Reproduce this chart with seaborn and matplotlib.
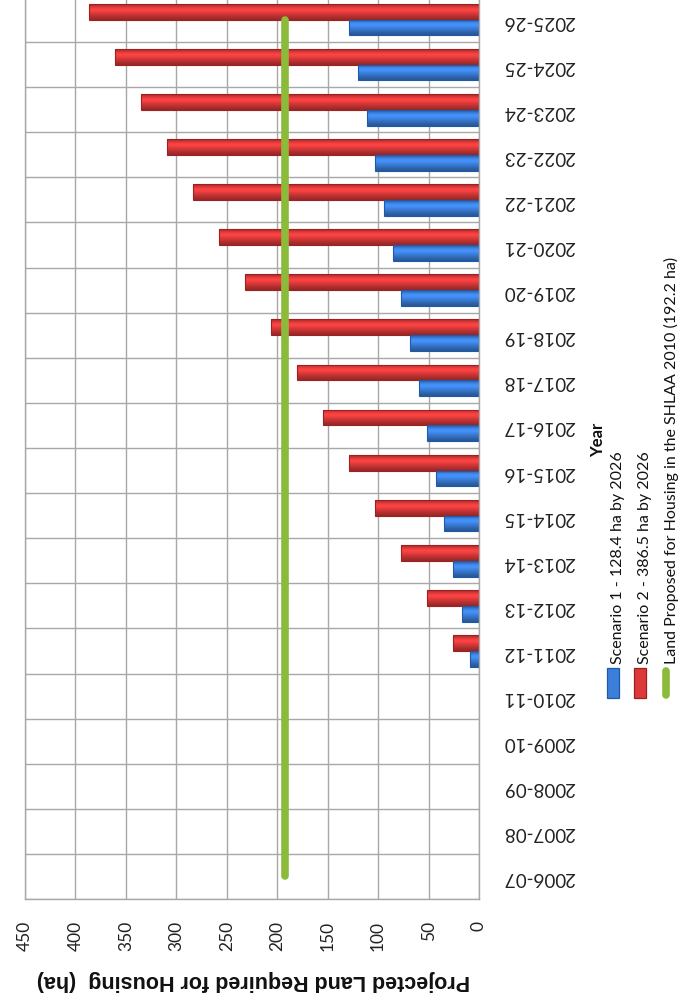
import numpy as np
import pandas as pd
import matplotlib
matplotlib.use("Agg")
import matplotlib.pyplot as plt
import seaborn as sns
from matplotlib.colors import to_rgb
from matplotlib.patches import Rectangle
from matplotlib.lines import Line2D

# ---- data -------------------------------------------------------------
years = ["2006-07", "2007-08", "2008-09", "2009-10", "2010-11", "2011-12",
         "2012-13", "2013-14", "2014-15", "2015-16", "2016-17", "2017-18",
         "2018-19", "2019-20", "2020-21", "2021-22", "2022-23", "2023-24",
         "2024-25", "2025-26"]
scenario1 = [0, 0, 0, 0, 0, 8.6, 17.1, 25.7, 34.2, 42.8, 51.4, 59.9, 68.5,
             77.0, 85.6, 94.2, 102.7, 111.3, 119.8, 128.4]
scenario2 = [0, 0, 0, 0, 0, 25.8, 51.5, 77.3, 103.1, 128.8, 154.6, 180.4,
             206.1, 231.9, 257.7, 283.4, 309.2, 335.0, 360.7, 386.5]
shlaa_land = 192.2
value_ticks = [0, 50, 100, 150, 200, 250, 300, 350, 400, 450]

s1_label = "Scenario 1 - 128.4 ha by 2026"
s2_label = "Scenario 2 - 386.5 ha by 2026"
line_label = "Land Proposed for Housing in the SHLAA 2010 (192.2 ha)"
value_title = "Projected Land Required for Housing  (ha)"
year_title = "Year"

# ---- styling ----------------------------------------------------------
blue, blue_edge = "#3b7fdb", "#1f5aa8"
red, red_edge = "#dc3a3a", "#a01f1f"
green = "#8cbb3c"
grid_col = "#a8a8a8"
# brightness across a bar's thickness (top to bottom), for a rounded look
shade = np.array([0.80, 1.0, 1.16, 1.12, 1.0, 0.9, 0.8, 0.7])

sns.set_theme(style="white")
plt.rcParams["font.family"] = ["Lato", "DejaVu Sans"]

df = pd.DataFrame({
    "year": years * 2,
    "value": scenario1 + scenario2,
    "series": [s1_label] * len(years) + [s2_label] * len(years),
})

W, H = 680, 1000
fig = plt.figure(figsize=(W / 100, H / 100), dpi=100)
# plot area: value 450 at x=25 px, value 0 at x=479 px; rows from y=-3 to 899 px
ax = fig.add_axes([25 / W, 1 - 899 / H, 454 / W, 902 / H])

order = years[::-1]           # 2025-26 at the top
sns.barplot(data=df, x="value", y="year", hue="series", order=order,
            hue_order=[s2_label, s1_label],
            palette={s1_label: blue, s2_label: red}, saturation=1,
            orient="h", width=0.7, legend=False, ax=ax, zorder=2)

# shaded fill clipped to each bar, outline drawn on top
for cont, base, ec in zip(ax.containers, [red, blue], [red_edge, blue_edge]):
    grad = np.clip(np.array(to_rgb(base))[None, :] * shade[:, None], 0, 1)
    grad = grad[:, None, :]
    for bar in cont:
        if bar.get_width() <= 0:
            bar.set_linewidth(0)
            continue
        x0, y0 = bar.get_x(), bar.get_y()
        w, h = bar.get_width(), bar.get_height()
        im = ax.imshow(grad, extent=(x0, x0 + w, y0 + h, y0), aspect="auto",
                       interpolation="bilinear", zorder=2.2)
        im.set_clip_path(bar)
        bar.set_facecolor("none")
        bar.set_edgecolor(ec)
        bar.set_linewidth(0.8)
        bar.set_zorder(2.4)

# SHLAA allocation as a constant line across every year
ax.plot([shlaa_land] * len(order), np.arange(len(order)), color=green,
        lw=5.5, solid_capstyle="round", zorder=3)

ax.set_xlim(450, 0)
ax.set_ylim(len(order) - 0.5, -0.5)
ax.set_xticks(value_ticks)
ax.set_xticklabels([str(v) for v in value_ticks])
ax.set_yticks(np.arange(len(order)))
ax.set_yticklabels(order)
ax.set_yticks(np.arange(-0.5, len(order), 1.0), minor=True)
ax.grid(axis="x", which="major", color=grid_col, lw=1)
ax.grid(axis="y", which="minor", color=grid_col, lw=1)
ax.grid(axis="y", which="major", visible=False)
ax.set_axisbelow(True)
for sp in ax.spines.values():
    sp.set_color(grid_col)
    sp.set_linewidth(1)

ax.yaxis.tick_right()
ax.tick_params(axis="x", which="both", length=0, pad=16, labelsize=12.5,
               labelrotation=90, colors="#222222")
ax.tick_params(axis="y", which="both", length=0, pad=17, labelsize=13.5,
               labelrotation=180, colors="#222222")
ax.set_xlabel("")
ax.set_ylabel("")

# axis titles
fig.text(253 / W, 1 - 980 / H, value_title, rotation=180, ha="center",
         va="center", fontsize=15.5, fontweight="bold",
         family=["Liberation Sans", "DejaVu Sans"], color="#111111")
fig.text(598 / W, 1 - 440 / H, year_title, rotation=90, ha="center",
         va="center", fontsize=12, fontweight="bold", color="#111111")

# legend, laid out in columns reading bottom to top
text_bottom = 664
key_top, key_bottom = 668, 698
entries = [(s1_label, 613, 618, "bar", blue, blue_edge),
           (s2_label, 640, 645, "bar", red, red_edge),
           (line_label, 666, 671, "line", green, green)]
for label, kx, tx, kind, fc, ec in entries:
    fig.text(tx / W, 1 - text_bottom / H, label, rotation=90, ha="center",
             va="bottom", fontsize=11.5, color="#111111")
    if kind == "bar":
        fig.add_artist(Rectangle(((kx - 6) / W, 1 - key_bottom / H), 12 / W,
                                 (key_bottom - key_top) / H,
                                 transform=fig.transFigure, facecolor=fc,
                                 edgecolor=ec, lw=0.9))
    else:
        fig.add_artist(Line2D([kx / W, kx / W],
                              [1 - (key_bottom - 3) / H, 1 - (key_top + 3) / H],
                              transform=fig.transFigure, color=fc, lw=5.5,
                              solid_capstyle="round"))

fig.savefig("out.png", dpi=100, facecolor="white")
